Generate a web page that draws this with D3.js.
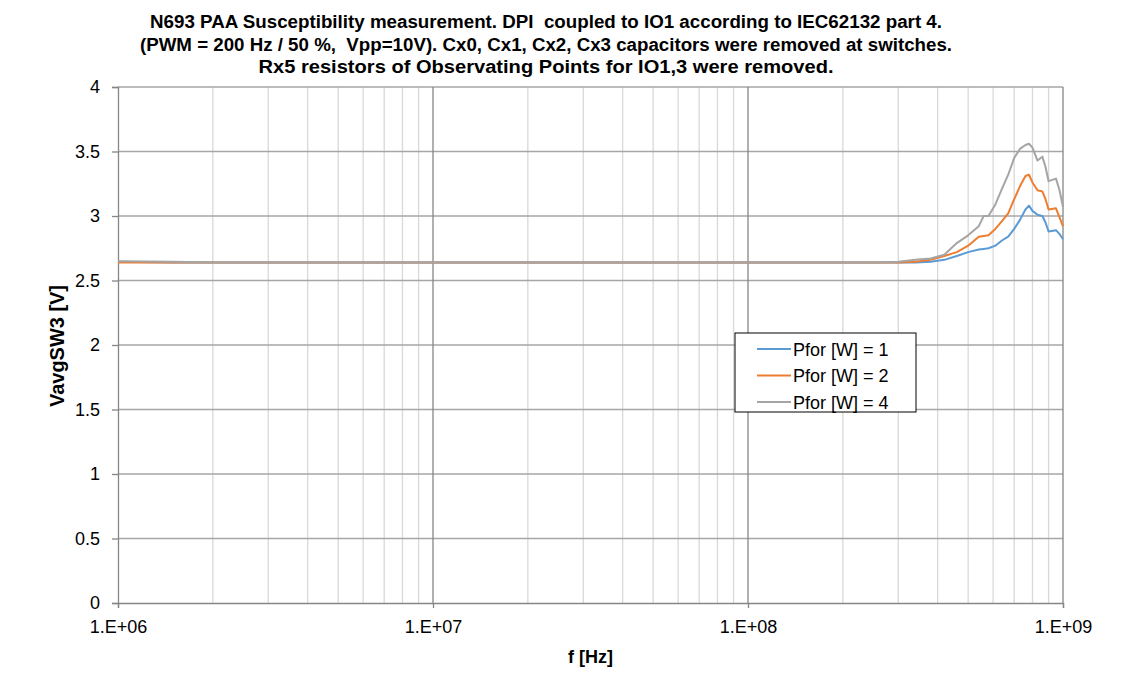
<!DOCTYPE html>
<html>
<head>
<meta charset="utf-8">
<script src="https://cdn.jsdelivr.net/npm/d3@7"></script>
<style>
  body { margin: 0; background: #fff; }
  text { font-family: "Liberation Sans", Arial, sans-serif; white-space: pre; }
</style>
</head>
<body>
<div id="graph"></div>
<script>
// frequencies in MHz
var freqs = [1, 1.5, 2, 3, 5, 7, 10, 15, 20, 30, 50, 70, 100, 150, 200, 250, 300, 340, 380, 420, 460, 500, 540, 560, 580, 610, 640, 670, 700, 730, 760, 780, 800, 830, 860, 880, 900, 950, 975, 1000];
var p1 = [2.645, 2.64, 2.64, 2.64, 2.64, 2.64, 2.64, 2.64, 2.64, 2.64, 2.64, 2.64, 2.64, 2.64, 2.64, 2.64, 2.64, 2.64, 2.645, 2.66, 2.69, 2.72, 2.74, 2.745, 2.75, 2.77, 2.81, 2.84, 2.90, 2.97, 3.05, 3.08, 3.04, 3.01, 3.00, 2.95, 2.88, 2.89, 2.86, 2.82];
var p2 = [2.64, 2.64, 2.64, 2.64, 2.64, 2.64, 2.64, 2.64, 2.64, 2.64, 2.64, 2.64, 2.64, 2.64, 2.64, 2.64, 2.64, 2.645, 2.66, 2.69, 2.72, 2.77, 2.84, 2.845, 2.85, 2.90, 2.96, 3.02, 3.13, 3.23, 3.31, 3.32, 3.26, 3.20, 3.19, 3.13, 3.05, 3.06, 2.99, 2.92];
var p4 = [2.65, 2.645, 2.64, 2.64, 2.64, 2.64, 2.64, 2.64, 2.64, 2.64, 2.64, 2.64, 2.64, 2.64, 2.64, 2.64, 2.645, 2.66, 2.67, 2.70, 2.79, 2.85, 2.92, 3.00, 3.00, 3.09, 3.21, 3.32, 3.45, 3.52, 3.55, 3.56, 3.53, 3.43, 3.46, 3.38, 3.27, 3.29, 3.20, 3.07];
var seriesNames = ["Pfor [W] = 1", "Pfor [W] = 2", "Pfor [W] = 4"];
var seriesColors = ["#5B9BD5", "#ED7D31", "#A5A5A5"];
var yTicks = [0, 0.5, 1, 1.5, 2, 2.5, 3, 3.5, 4];
var xTicks = [1e6, 1e7, 1e8, 1e9];
var titleLines = [
  "N693 PAA Susceptibility measurement. DPI  coupled to IO1 according to IEC62132 part 4.",
  "(PWM = 200 Hz / 50 %,  Vpp=10V). Cx0, Cx1, Cx2, Cx3 capacitors were removed at switches.",
  "Rx5 resistors of Observating Points for IO1,3 were removed."
];
var titleWidths = [792, 812, 575];

var W = 1145, H = 696;
var margin = {top: 87, right: 82, bottom: 93, left: 118};
var width = W - margin.left - margin.right,
  height = H - margin.top - margin.bottom;

var svg = d3.select('#graph').append('svg')
  .attr('width', W).attr('height', H);

var g = svg.append('g')
  .attr('transform', 'translate(' + margin.left + ',' + margin.top + ')');

var x = d3.scaleLog().domain([1e6, 1e9]).range([0, width]);
var y = d3.scaleLinear().domain([0, 4]).range([height, 0]);

// minor vertical grid
var minor = [];
[1e6, 1e7, 1e8].forEach(function(d) {
  for (var k = 2; k <= 9; k++) minor.push(d * k);
});
g.selectAll('.minor').data(minor).enter().append('line')
  .attr('x1', function(d) { return x(d); }).attr('x2', function(d) { return x(d); })
  .attr('y1', 0).attr('y2', height)
  .attr('stroke', '#d9d9d9').attr('stroke-width', 1.3);

// horizontal grid
g.selectAll('.hgrid').data(yTicks.slice(1)).enter().append('line')
  .attr('x1', 0).attr('x2', width)
  .attr('y1', function(d) { return y(d); }).attr('y2', function(d) { return y(d); })
  .attr('stroke', '#a6a6a6').attr('stroke-width', 1.3);

// major vertical grid
g.selectAll('.major').data(xTicks.slice(1)).enter().append('line')
  .attr('x1', function(d) { return x(d); }).attr('x2', function(d) { return x(d); })
  .attr('y1', 0).attr('y2', height)
  .attr('stroke', '#868686').attr('stroke-width', 1.3);

// axes
var yAxis = g.append('g')
  .call(d3.axisLeft(y).tickValues(yTicks).tickSize(6).tickPadding(12).tickFormat(d3.format('')));
var xAxis = g.append('g')
  .attr('transform', 'translate(0,' + height + ')')
  .call(d3.axisBottom(x).tickValues(xTicks).tickSize(5).tickPadding(12)
    .tickFormat(function(d) { return '1.E+0' + Math.round(Math.log10(d)); }));
[yAxis, xAxis].forEach(function(a) {
  a.select('.domain').attr('stroke', '#868686').attr('stroke-width', 1.3);
  a.selectAll('.tick line').attr('stroke', '#868686').attr('stroke-width', 1.3);
  a.selectAll('.tick text').attr('font-size', 18).attr('fill', '#000')
    .style('font-family', '"Liberation Sans", Arial, sans-serif');
});

// lines
var all = [p1, p2, p4];
var line = d3.line()
  .x(function(d, i) { return x(freqs[i] * 1e6); })
  .y(function(d) { return y(d); });
all.forEach(function(s, n) {
  g.append('path').datum(s)
    .attr('fill', 'none')
    .attr('stroke', seriesColors[n])
    .attr('stroke-width', 2)
    .attr('stroke-linejoin', 'round')
    .attr('d', line);
});

// title
svg.selectAll('.title').data(titleLines).enter().append('text')
  .attr('x', 546).attr('y', function(d, i) { return 28 + i * 22.5; })
  .attr('text-anchor', 'middle')
  .attr('font-size', 18).attr('font-weight', 'bold')
  .attr('textLength', function(d, i) { return titleWidths[i]; })
  .attr('lengthAdjust', 'spacingAndGlyphs')
  .text(function(d) { return d; });

// axis titles
svg.append('text')
  .attr('transform', 'translate(64,346) rotate(-90)')
  .attr('text-anchor', 'middle').attr('font-size', 20).attr('font-weight', 'bold')
  .attr('textLength', 122).attr('lengthAdjust', 'spacingAndGlyphs')
  .text('VavgSW3 [V]');
svg.append('text')
  .attr('x', margin.left + width / 2).attr('y', 663)
  .attr('text-anchor', 'middle').attr('font-size', 18).attr('font-weight', 'bold')
  .text('f [Hz]');

// legend
var lg = svg.append('g').attr('transform', 'translate(735,333)');
lg.append('rect').attr('width', 181).attr('height', 79)
  .attr('fill', '#fff').attr('stroke', '#000').attr('stroke-width', 1);
seriesNames.forEach(function(name, i) {
  var yy = 16 + i * 26.5;
  lg.append('line').attr('x1', 22).attr('x2', 56).attr('y1', yy).attr('y2', yy)
    .attr('stroke', seriesColors[i]).attr('stroke-width', 2);
  lg.append('text').attr('x', 58).attr('y', yy + 6.5)
    .attr('font-size', 18).text(name);
});
</script>
</body>
</html>
